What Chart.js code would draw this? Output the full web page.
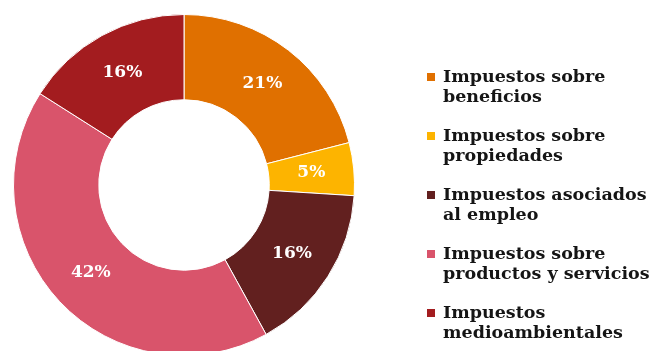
<!DOCTYPE html>
<html>
<head>
<meta charset="utf-8">
<script src="https://cdn.jsdelivr.net/npm/chart.js@4/dist/chart.umd.min.js"></script>
<style>
  html, body { margin: 0; padding: 0; background: #fff; overflow: hidden; }
  #wrap { position: absolute; left: 0; top: 0; width: 658px; height: 372px; }
</style>
</head>
<body>
<div id="wrap"><canvas id="taxChart"></canvas></div>
<script>
const categories = [
  ["Impuestos sobre", "beneficios"],
  ["Impuestos sobre", "propiedades"],
  ["Impuestos asociados", "al empleo"],
  ["Impuestos sobre", "productos y servicios"],
  ["Impuestos", "medioambientales"],
];
const shares = [21, 5, 16, 42, 16];
const sliceColors = ["#e07000", "#fdb400", "#62201f", "#d9546b", "#a31c1f"];

const FONT = "'DejaVu Serif', serif";

// percentage text in the middle of each ring slice
const sliceLabels = {
  id: "sliceLabels",
  afterDatasetsDraw(chart) {
    const ctx = chart.ctx;
    const meta = chart.getDatasetMeta(0);
    ctx.save();
    ctx.font = "bold 17px " + FONT;
    ctx.fillStyle = "#fff";
    ctx.textAlign = "center";
    ctx.textBaseline = "middle";
    meta.data.forEach((arc, i) => {
      const p = arc.tooltipPosition();
      ctx.fillText(shares[i] + "%", p.x, p.y);
    });
    ctx.restore();
  },
};

// legend on the right, two lines per entry
const sideLegend = {
  id: "sideLegend",
  afterDraw(chart) {
    const ctx = chart.ctx;
    const x = chart.chartArea.right + 72;
    let y = 77;
    ctx.save();
    ctx.font = "bold 17.5px " + FONT;
    ctx.textAlign = "left";
    ctx.textBaseline = "middle";
    chart.data.labels.forEach((lines, i) => {
      ctx.fillStyle = sliceColors[i];
      ctx.fillRect(x, y - 4, 8, 8);
      ctx.fillStyle = "#151515";
      lines.forEach((line, j) => {
        ctx.fillText(line, x + 16, y + j * 20);
      });
      y += 59;
    });
    ctx.restore();
  },
};

new Chart(document.getElementById("taxChart"), {
  type: "doughnut",
  data: {
    labels: categories,
    datasets: [
      {
        data: shares,
        backgroundColor: sliceColors,
        borderColor: "#fff",
        borderWidth: 1,
      },
    ],
  },
  options: {
    responsive: true,
    maintainAspectRatio: false,
    animation: false,
    cutout: "50%",
    layout: { padding: { left: 13, top: 14, right: 303, bottom: 16 } },
    plugins: {
      legend: { display: false },
      tooltip: { enabled: false },
    },
  },
  plugins: [sliceLabels, sideLegend],
});
</script>
</body>
</html>
